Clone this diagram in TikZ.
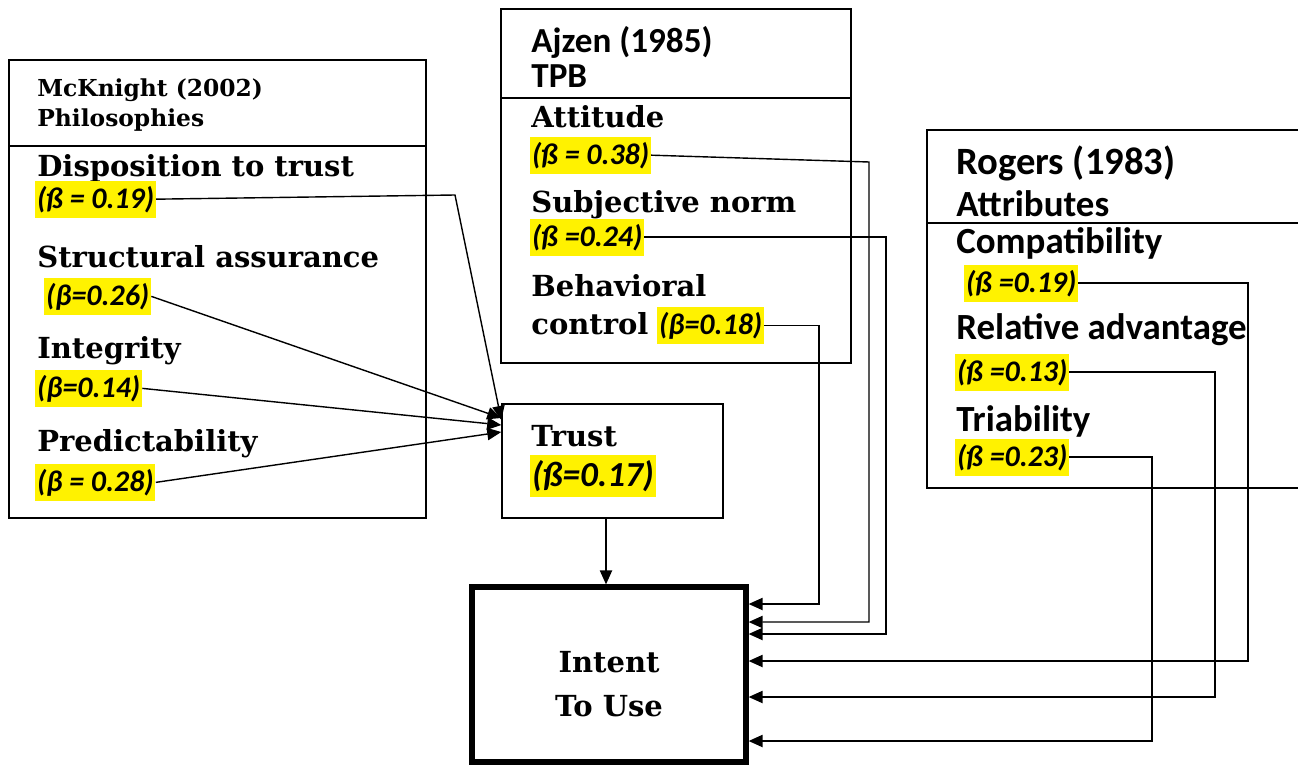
\documentclass[tikz,border=0pt]{standalone}
\usepackage{fontspec}
\newfontfamily\cambfont{DejaVu Serif}
\newfontfamily\califont{Carlito}
\usetikzlibrary{arrows.meta, positioning, fit}

\tikzset{
  frame/.style={draw, line width=0.8pt, inner sep=0pt},
  serifhead/.style={anchor=base west, inner sep=0pt, font=\cambfont\bfseries\fontsize{13.3}{15}\selectfont},
  serifitem/.style={anchor=base west, inner sep=0pt, font=\cambfont\bfseries\fontsize{16.5}{18}\selectfont},
  sanshead/.style={anchor=base west, inner sep=0pt, font=\califont\bfseries\fontsize{20}{22}\selectfont},
  sansitem/.style={anchor=base west, inner sep=0pt, font=\califont\bfseries\fontsize{21}{23}\selectfont},
  beta/.style={anchor=base west, fill=yellow, inner xsep=1pt, inner ysep=3pt, font=\califont\bfseries\itshape\fontsize{17}{19}\selectfont},
  link/.style={line width=0.8pt, -{Triangle[length=8pt,width=7pt]}},
}

\begin{document}
\begin{tikzpicture}[x=0.02cm, y=-0.02cm]
  \useasboundingbox (0,0) rectangle (1298,767);

  % frames
  \node[frame, fit={(9,60) (426,518)}]      (mck)    {};
  \node[frame, fit={(501,9) (851,363)}]     (ajzen)  {};
  \node[frame, fit={(927,130) (1304,488)}]  (rogers) {};
  \node[frame, fit={(502,404) (723,518)}]   (trust)  {};
  \node[frame, line width=3pt, fit={(472,587) (746,762)}] (intent) {};

  \draw[line width=0.8pt] (mck.west |- 0,146) -- (mck.east |- 0,146);
  \draw[line width=0.8pt] (ajzen.west |- 0,98) -- (ajzen.east |- 0,98);
  \draw[line width=0.8pt] (rogers.west |- 0,223) -- (rogers.east |- 0,223);

  % McKnight
  \node[serifhead] (mckname)  at (37,97)  {McKnight (2002)};
  \node[serifhead] (mckphil)  at (37,127) {Philosophies};
  \node[serifitem] (disp)     at (37,176) {Disposition to trust};
  \node[beta]      (b19)      at (35,208) {(ß = 0.19)};
  \node[serifitem] (struct)   at (37,267) {Structural assurance};
  \node[beta]      (b26)      at (44,305) {(β=0.26)};
  \node[serifitem] (integ)    at (37,358) {Integrity};
  \node[beta]      (b14)      at (35,397) {(β=0.14)};
  \node[serifitem] (pred)     at (37,451) {Predictability};
  \node[beta]      (b28)      at (35,491) {(β = 0.28)};

  % Ajzen
  \node[sanshead]  (ajzname)  at (531,53)  {Ajzen (1985)};
  \node[sanshead]  (tpb)      at (531,88)  {TPB};
  \node[serifitem] (att)      at (531,128) {Attitude};
  \node[beta]      (b38)      at (530,164) {(ß = 0.38)};
  \node[serifitem] (subj)     at (531,212) {Subjective norm};
  \node[beta]      (b24)      at (530,246) {(ß =0.24)};
  \node[serifitem] (behav)    at (531,296) {Behavioral};
  \node[serifitem] (contr)    at (531,334) {control};
  \node[beta]      (b18)      at (657,334) {(β=0.18)};

  % Rogers
  \node[sanshead, font=\califont\bfseries\fontsize{22}{24}\selectfont] (rogname) at (956,174) {Rogers (1983)};
  \node[sansitem]  (attr)     at (956,216) {Attributes};
  \node[sansitem]  (compat)   at (956,253) {Compatibility};
  \node[beta]      (b19r)     at (964,292) {(ß =0.19)};
  \node[sansitem]  (relad)    at (956,339) {Relative advantage};
  \node[beta]      (b13)      at (955,381) {(ß =0.13)};
  \node[sansitem]  (triab)    at (956,431) {Triability};
  \node[beta]      (b23)      at (955,466) {(ß =0.23)};

  % Trust and Intent
  \node[serifitem] (trusttxt) at (531,446) {Trust};
  \node[beta, font=\califont\bfseries\itshape\fontsize{20}{22}\selectfont] (b17) at (530,486) {(ß=0.17)};
  \node[serifitem, anchor=base] (intent1) at (609,672) {Intent};
  \node[serifitem, anchor=base] (intent2) at (609,716) {To Use};

  % links to trust
  \draw[link] (b19.east) -- (455,195) -- (trust.west |- 0,420);
  \draw[link] (b26.east) -- (trust.west |- 0,418);
  \draw[link] (b14.east) -- (trust.west |- 0,425);
  \draw[link] (b28.east) -- (trust.west |- 0,432);
  \draw[link] (trust.south -| 606,0) -- (intent.north -| 606,0);

  % links to intent
  \draw[link] (b18.east) -| (819,0 |- 0,604) -- (intent.east |- 0,604);
  \draw[link] (b38.east) -- (869,162) |- (intent.east |- 0,622);
  \draw[link] (b24.east) -| (886,0 |- 0,634) -- (intent.east |- 0,634);
  \draw[link] (b19r.east) -| (1248,0 |- 0,661) -- (intent.east |- 0,661);
  \draw[link] (b13.east) -| (1215,0 |- 0,697) -- (intent.east |- 0,697);
  \draw[link] (b23.east) -| (1152,0 |- 0,741) -- (intent.east |- 0,741);
\end{tikzpicture}
\end{document}
